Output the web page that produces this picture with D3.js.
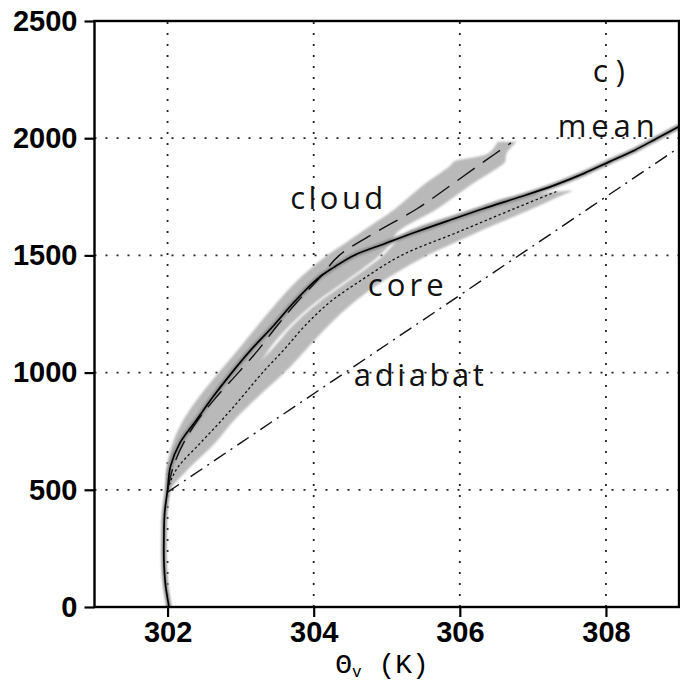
<!DOCTYPE html>
<html>
<head>
<meta charset="utf-8">
<script src="https://cdn.jsdelivr.net/npm/d3@7"></script>
<style>
  html, body { margin: 0; padding: 0; background: #fff; }
  svg { display: block; }
</style>
</head>
<body>
<svg id="chart" width="680" height="683"></svg>
<script>
// Virtual potential temperature profiles (K) against height (m)

// mean profile
const meanZ = [0, 100, 200, 300, 400, 500, 600, 700, 800, 900, 1000, 1100, 1200, 1300, 1400, 1450, 1500, 1550, 1600, 1650, 1700, 1750, 1800, 1850, 1900, 1950, 2000, 2050];
const meanTheta = [302.02, 301.97, 301.95, 301.95, 301.96, 302.0, 302.04, 302.17, 302.40, 302.63, 302.88, 303.15, 303.45, 303.73, 304.05, 304.28, 304.55, 304.97, 305.4, 305.86, 306.33, 306.83, 307.3, 307.7, 308.05, 308.4, 308.7, 309.0];

// cloud average and its spread
const cloudZ = [500, 600, 700, 800, 900, 1000, 1100, 1200, 1300, 1400, 1500, 1600, 1700, 1800, 1900, 1980];
const cloudTheta = [302.0, 302.08, 302.22, 302.42, 302.68, 302.97, 303.25, 303.5, 303.77, 304.07, 304.35, 304.86, 305.42, 305.88, 306.33, 306.7];
const cloudBandZ = [500, 600, 700, 800, 900, 1000, 1100, 1200, 1300, 1400, 1500, 1550, 1600, 1700, 1800, 1880, 1900, 1936, 1985];
const cloudLo = [301.98, 301.99, 302.07, 302.22, 302.44, 302.7, 302.97, 303.23, 303.5, 303.8, 304.18, 304.42, 304.65, 305.12, 305.5, 305.86, 305.92, 306.39, 306.52];
const cloudHi = [302.02, 302.2, 302.45, 302.7, 302.95, 303.2, 303.39, 303.67, 304.03, 304.48, 304.9, 305.05, 305.15, 305.7, 306.15, 306.55, 306.62, 306.64, 306.78];

// core average and its spread
const coreZ = [500, 550, 600, 700, 800, 900, 1000, 1100, 1200, 1300, 1400, 1500, 1600, 1700, 1772];
const coreTheta = [302.0, 302.06, 302.15, 302.45, 302.75, 303.03, 303.3, 303.6, 303.88, 304.22, 304.68, 305.2, 305.98, 306.75, 307.32];
const coreBandZ = [500, 600, 700, 800, 900, 1000, 1100, 1200, 1300, 1400, 1500, 1550, 1600, 1700, 1750, 1776];
const coreLo = [301.98, 302.05, 302.28, 302.52, 302.8, 303.1, 303.43, 303.71, 304.07, 304.52, 304.95, 305.1, 305.28, 306.2, 306.7, 307.5];
const coreHi = [302.02, 302.32, 302.65, 302.92, 303.25, 303.6, 303.9, 304.2, 304.55, 305.0, 305.55, 305.9, 306.25, 307.0, 307.35, 307.55];

// reference adiabat
const adiabatTheta = [302.0, 303, 305, 307, 309];
const adiabatZ = [490, 700, 1120, 1540, 1960];

// axes
const xTicks = [302, 304, 306, 308];
const yTicks = [0, 500, 1000, 1500, 2000, 2500];
const xGrid = [302, 304, 306, 308];
const yGrid = [500, 1000, 1500, 2000];

// curve labels (left end of text, baseline)
const labels = [
  { text: "cloud", theta: 303.68, z: 1698 },
  { text: "core", theta: 304.74, z: 1327 },
  { text: "mean", theta: 307.34, z: 2005 },
  { text: "adiabat", theta: 304.55, z: 944 },
  { text: "c)", theta: 307.82, z: 2240 }
];
const labelWidths = { "cloud": 93, "core": 76, "mean": 97, "adiabat": 130, "c)": 32 };

const svg = d3.select("#chart");
const x = d3.scaleLinear().domain([301, 309]).range([94.5, 679]);
const y = d3.scaleLinear().domain([0, 2500]).range([607, 21]);

const zip = (zs, ts) => zs.map((z, i) => ({ z, t: ts[i] }));
const band = (zs, lo, hi) => zs.map((z, i) => ({ z, lo: lo[i], hi: hi[i] }));

const defs = svg.append("defs");
defs.append("filter").attr("id", "soft")
  .attr("x", "-5%").attr("y", "-5%").attr("width", "110%").attr("height", "110%")
  .append("feGaussianBlur").attr("stdDeviation", 0.8);
defs.append("filter").attr("id", "halo")
  .append("feGaussianBlur").attr("stdDeviation", 1.2);
defs.append("clipPath").attr("id", "plotClip")
  .append("rect").attr("x", x(301)).attr("y", y(2500))
  .attr("width", x(309) - x(301)).attr("height", y(0) - y(2500));

const plot = svg.append("g").attr("clip-path", "url(#plotClip)");

// dotted grid
plot.append("g").selectAll("line").data(xGrid).join("line")
  .attr("x1", d => x(d)).attr("x2", d => x(d))
  .attr("y1", y(0)).attr("y2", y(2500))
  .attr("stroke", "#222").attr("stroke-width", 1.8)
  .attr("stroke-dasharray", "2,9");
plot.append("g").selectAll("line").data(yGrid).join("line")
  .attr("y1", d => y(d)).attr("y2", d => y(d))
  .attr("x1", x(301)).attr("x2", x(309))
  .attr("stroke", "#222").attr("stroke-width", 1.8)
  .attr("stroke-dasharray", "2,9");

// spread bands
const area = d3.area()
  .y(d => y(d.z)).x0(d => x(d.lo)).x1(d => x(d.hi))
  .curve(d3.curveCatmullRom.alpha(0.5));
plot.append("path").datum(band(cloudBandZ, cloudLo, cloudHi))
  .attr("d", area).attr("fill", "#b9b9b9").attr("filter", "url(#soft)");
plot.append("path").datum(band(coreBandZ, coreLo, coreHi))
  .attr("d", area).attr("fill", "#b9b9b9").attr("filter", "url(#soft)");

const line = d3.line()
  .x(d => x(d.t)).y(d => y(d.z))
  .curve(d3.curveCatmullRom.alpha(0.5));

// mean profile with its grey halo
plot.append("path").datum(zip(meanZ, meanTheta))
  .attr("d", line).attr("fill", "none")
  .attr("stroke", "#8a8a8a").attr("stroke-width", 5)
  .attr("filter", "url(#halo)");

// adiabat (dash-dot)
plot.append("path").datum(zip(adiabatZ, adiabatTheta))
  .attr("d", line).attr("fill", "none")
  .attr("stroke", "#111").attr("stroke-width", 1.4)
  .attr("stroke-dasharray", "14,6,2,6");

// core (dotted)
plot.append("path").datum(zip(coreZ, coreTheta))
  .attr("d", line).attr("fill", "none")
  .attr("stroke", "#111").attr("stroke-width", 1.3)
  .attr("stroke-dasharray", "2.5,2.5");

// cloud (long dash)
plot.append("path").datum(zip(cloudZ, cloudTheta))
  .attr("d", line).attr("fill", "none")
  .attr("stroke", "#111").attr("stroke-width", 1.4)
  .attr("stroke-dasharray", "21,10");

// mean (solid)
plot.append("path").datum(zip(meanZ, meanTheta))
  .attr("d", line).attr("fill", "none")
  .attr("stroke", "#000").attr("stroke-width", 1.7);

// curve labels
svg.append("g").selectAll("text").data(labels).join("text")
  .attr("x", d => x(d.theta)).attr("y", d => y(d.z))
  .attr("textLength", d => labelWidths[d.text])
  .attr("lengthAdjust", "spacing")
  .attr("font-family", "'Open Sans', 'DejaVu Sans', sans-serif")
  .attr("font-weight", 400)
  .attr("font-size", 31)
  .attr("fill", "#111")
  .text(d => d.text);

// axes
const tickFont = "'Liberation Sans', Arial, sans-serif";
const xAxis = svg.append("g").attr("transform", `translate(0,${y(0)})`)
  .call(d3.axisBottom(x).tickValues(xTicks).tickSize(10).tickPadding(4).tickFormat(d3.format("d")));
const yAxis = svg.append("g").attr("transform", `translate(${x(301)},0)`)
  .call(d3.axisLeft(y).tickValues(yTicks).tickSize(10).tickPadding(7).tickFormat(d3.format("d")));
[xAxis, yAxis].forEach(g => {
  g.select(".domain").remove();
  g.selectAll(".tick line").attr("stroke", "#000").attr("stroke-width", 2.2);
  g.selectAll(".tick text")
    .attr("font-family", tickFont).attr("font-weight", "bold")
    .attr("font-size", 29).attr("fill", "#000");
});

// frame
svg.append("rect")
  .attr("x", x(301)).attr("y", y(2500))
  .attr("width", x(309) - x(301)).attr("height", y(0) - y(2500))
  .attr("fill", "none").attr("stroke", "#000").attr("stroke-width", 2.4);

// axis title: theta_v (K)
const title = svg.append("text")
  .attr("x", 382).attr("y", 673)
  .attr("text-anchor", "middle")
  .attr("font-family", "'Liberation Mono', 'DejaVu Sans Mono', monospace")
  .attr("font-size", 28).attr("fill", "#000");
title.append("tspan").text("\u0398");
title.append("tspan").attr("dy", 4).attr("font-size", 16).text("v");
title.append("tspan").attr("dy", -4).text(" (K)");
</script>
</body>
</html>
